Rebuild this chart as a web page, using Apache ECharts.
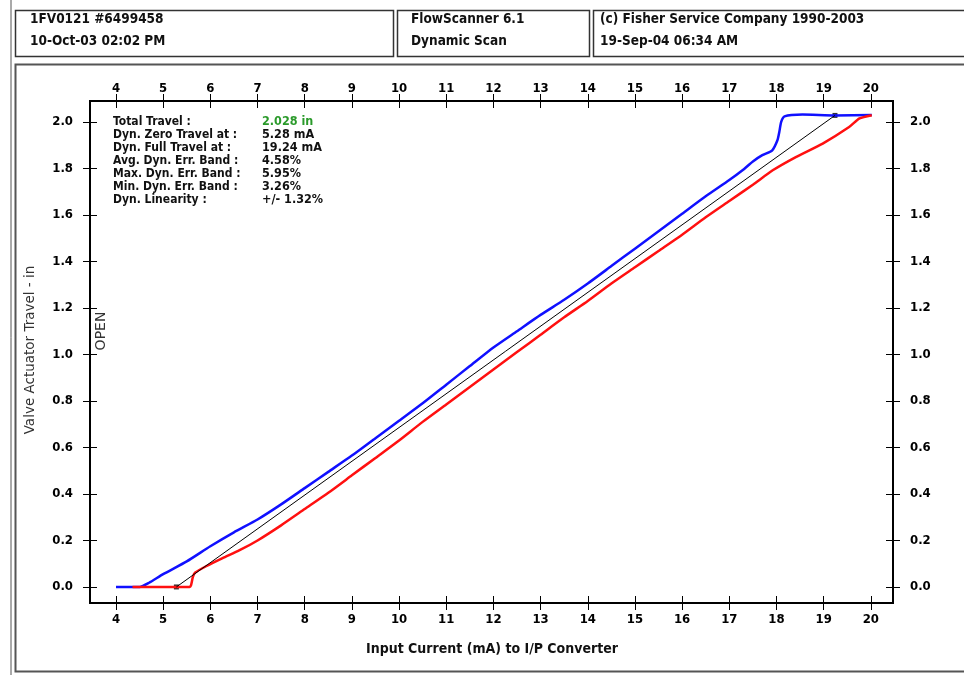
<!DOCTYPE html>
<html>
<head>
<meta charset="utf-8">
<script src="https://cdn.jsdelivr.net/npm/echarts@6/dist/echarts.min.js"></script>
<style>
  html, body { margin: 0; padding: 0; background: #fff; }
  #chart { width: 964px; height: 675px; }
</style>
</head>
<body>
<div id="chart"></div>
<script>
// header texts
const headerLeft = ['1FV0121 #6499458', '10-Oct-03 02:02 PM'];
const headerMid = ['FlowScanner 6.1', 'Dynamic Scan'];
const headerRight = ['(c) Fisher Service Company 1990-2003', '19-Sep-04 06:34 AM'];

// summary box
const statLabels = ['Total Travel :', 'Dyn. Zero Travel at :', 'Dyn. Full Travel at :',
  'Avg. Dyn. Err. Band :', 'Max. Dyn. Err. Band :', 'Min. Dyn. Err. Band :', 'Dyn. Linearity :'];
const statValues = ['2.028 in', '5.28 mA', '19.24 mA', '4.58%', '5.95%', '3.26%', '+/- 1.32%'];

// ticks
const currentTicks = [4, 5, 6, 7, 8, 9, 10, 11, 12, 13, 14, 15, 16, 17, 18, 19, 20];
const travelTicks = [0, 0.2, 0.4, 0.6, 0.8, 1.0, 1.2, 1.4, 1.6, 1.8, 2.0];

// blue trace (mA, in)
const blueMa = [4.0, 4.5, 4.7, 5.0, 5.5, 6.0, 6.5, 7.0, 7.5, 8.0, 8.5, 9.0, 9.5, 10.0, 10.5, 11.0, 11.5,
  12.0, 12.5, 13.0, 13.5, 14.0, 14.5, 15.0, 15.5, 16.0, 16.5, 17.0, 17.28, 17.5, 17.7, 17.91, 18.02,
  18.06, 18.10, 18.17, 18.55, 19.24, 20.02];
const blueIn = [0, 0, 0.018, 0.055, 0.11, 0.175, 0.235, 0.29, 0.355, 0.425, 0.495, 0.565, 0.64, 0.715,
  0.79, 0.87, 0.95, 1.03, 1.10, 1.17, 1.235, 1.305, 1.38, 1.455, 1.53, 1.605, 1.68, 1.75, 1.792, 1.83,
  1.857, 1.878, 1.921, 1.957, 2.0, 2.024, 2.032, 2.028, 2.03];

// red trace (mA, in)
const redMa = [4.35, 5.0, 5.56, 5.59, 5.63, 5.68, 5.91, 6.26, 6.62, 7.0, 7.5, 8.0, 8.5, 9.0, 9.5, 10.0,
  10.5, 11.0, 11.5, 12.0, 12.5, 13.0, 13.5, 14.0, 14.5, 15.0, 15.5, 16.0, 16.5, 17.0, 17.5, 17.92,
  18.41, 18.98, 19.54, 19.76, 20.02];
const redIn = [0, 0, 0, 0.007, 0.043, 0.062, 0.089, 0.124, 0.158, 0.2, 0.265, 0.335, 0.405, 0.48,
  0.555, 0.63, 0.71, 0.785, 0.86, 0.935, 1.01, 1.085, 1.16, 1.23, 1.305, 1.375, 1.445, 1.515, 1.59,
  1.66, 1.73, 1.792, 1.849, 1.907, 1.978, 2.015, 2.029];

// zero / full travel points
const endMa = [5.28, 19.24];
const endIn = [0, 2.028];

const chart = echarts.init(document.getElementById('chart'));
const FONT = '"DejaVu Sans Condensed", "DejaVu Sans", sans-serif';
const FONT_WIDE = '"DejaVu Sans", sans-serif';

const zip = (xs, ys) => xs.map((x, i) => [x, ys[i]]);

const xMin = 3.449, xMax = 20.47;
const yMin = -0.069, yMax = 2.09;

// two axes on each side: one with outer ticks + labels, one with inner ticks
const makeX = (pos, inside) => ({
  type: 'value', position: pos, min: xMin, max: xMax,
  axisLine: { show: true, onZero: false, lineStyle: { color: '#000', width: 2 } },
  axisTick: { show: true, inside: inside, length: 7, customValues: currentTicks,
    lineStyle: { color: '#000', width: 1 } },
  axisLabel: { show: !inside, customValues: currentTicks, margin: pos === 'top' ? 6 : 10,
    color: '#000', fontFamily: FONT, fontWeight: 'bold', fontSize: 13 },
  splitLine: { show: false }
});
const makeY = (pos, inside) => ({
  type: 'value', position: pos, min: yMin, max: yMax,
  axisLine: { show: true, onZero: false, lineStyle: { color: '#000', width: 2 } },
  axisTick: { show: true, inside: inside, length: 7, customValues: travelTicks,
    lineStyle: { color: '#000', width: 1 } },
  axisLabel: { show: !inside, customValues: travelTicks, margin: 17,
    formatter: v => v.toFixed(1),
    color: '#000', fontFamily: FONT, fontWeight: 'bold', fontSize: 13 },
  splitLine: { show: false }
});

// header boxes + frame
const graphics = [
  { type: 'line', shape: { x1: 11, y1: 0, x2: 11, y2: 675 }, style: { stroke: '#555', lineWidth: 1 } },
  { type: 'rect', shape: { x: 15.5, y: 10.5, width: 378, height: 46 }, style: { fill: null, stroke: '#333', lineWidth: 1.5 } },
  { type: 'rect', shape: { x: 397.5, y: 10.5, width: 192, height: 46 }, style: { fill: null, stroke: '#333', lineWidth: 1.5 } },
  { type: 'rect', shape: { x: 593.5, y: 10.5, width: 380, height: 46 }, style: { fill: null, stroke: '#333', lineWidth: 1.5 } },
  { type: 'rect', shape: { x: 15.5, y: 64.5, width: 960, height: 607 }, style: { fill: null, stroke: '#555', lineWidth: 2 } }
];
const headerText = (txt, x, y) => ({
  type: 'text', x: x, y: y,
  style: { text: txt, fill: '#111', font: 'bold 13.5px ' + FONT, verticalAlign: 'middle' }
});
[[headerLeft, 30], [headerMid, 411], [headerRight, 600]].forEach(([lines, x]) => {
  graphics.push(headerText(lines[0], x, 19));
  graphics.push(headerText(lines[1], x, 41));
});
statLabels.forEach((t, i) => {
  graphics.push({ type: 'text', x: 113, y: 122 + i * 13,
    style: { text: t, fill: '#111', font: 'bold 12px ' + FONT, verticalAlign: 'middle' } });
  graphics.push({ type: 'text', x: 262, y: 122 + i * 13,
    style: { text: statValues[i], fill: i === 0 ? '#2a9a2a' : '#111', font: 'bold 12.5px ' + FONT, verticalAlign: 'middle' } });
});
graphics.push({ type: 'text', x: 492, y: 649,
  style: { text: 'Input Current (mA) to I/P Converter', fill: '#111', font: 'bold 14px ' + FONT,
    align: 'center', verticalAlign: 'middle' } });
graphics.push({ type: 'text', x: 30, y: 350, rotation: Math.PI / 2,
  style: { text: 'Valve Actuator Travel - in', fill: '#333', font: '13.5px ' + FONT_WIDE,
    align: 'center', verticalAlign: 'middle' } });
graphics.push({ type: 'text', x: 101, y: 331, rotation: Math.PI / 2,
  style: { text: 'OPEN', fill: '#333', font: '14px ' + FONT_WIDE,
    align: 'center', verticalAlign: 'middle' } });

chart.setOption({
  animation: false,
  backgroundColor: '#fff',
  grid: { left: 90, right: 71, top: 101, bottom: 72, containLabel: false },
  xAxis: [makeX('bottom', false), makeX('bottom', true), makeX('top', false), makeX('top', true)],
  yAxis: [makeY('left', false), makeY('left', true), makeY('right', false), makeY('right', true)],
  graphic: graphics,
  series: [
    { type: 'line', data: zip(blueMa, blueIn), showSymbol: false, smooth: 0.2,
      lineStyle: { color: '#1010ff', width: 2.5 } },
    { type: 'line', data: zip(redMa, redIn), showSymbol: false, smooth: 0.2,
      lineStyle: { color: '#ff1010', width: 2.5 } },
    { type: 'line', data: zip(endMa, endIn), showSymbol: false,
      lineStyle: { color: '#000', width: 1 } },
    { type: 'scatter', data: zip(endMa, endIn), symbol: 'rect', symbolSize: 5,
      itemStyle: { color: '#000' } }
  ]
});
</script>
</body>
</html>
